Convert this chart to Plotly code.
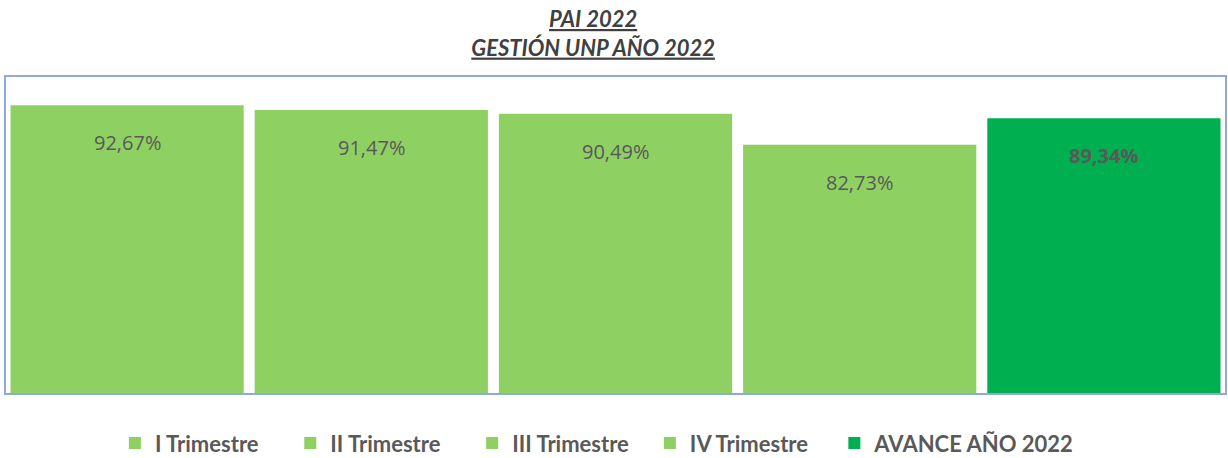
import plotly.graph_objects as go

categories = ["I Trimestre", "II Trimestre", "III Trimestre", "IV Trimestre", "AVANCE AÑO 2022"]
values = [92.67, 91.47, 90.49, 82.73, 89.34]
labels = ["92,67%", "91,47%", "90,49%", "82,73%", "89,34%"]
colors = ["#8FD063", "#8FD063", "#8FD063", "#8FD063", "#00B050"]
bold_label = [False, False, False, False, True]

legend_pad = [5, 5, 3, 4, 0]  # trailing non-breaking spaces for legend spacing

fig = go.Figure()
for cat, val, col, pad in zip(categories, values, colors, legend_pad):
    fig.add_trace(go.Bar(
        x=[cat], y=[val], name=cat + "\u00a0" * pad,
        marker=dict(color=col, line=dict(width=0)),
        hoverinfo="skip",
    ))

for cat, val, lab, b in zip(categories, values, labels, bold_label):
    fig.add_annotation(
        x=cat, y=val, xref="x", yref="y", yanchor="top", yshift=-22,
        text=f"<b>{lab}</b>" if b else lab, showarrow=False,
        font=dict(family="Open Sans", size=20, color="#595959"),
    )

fig.add_shape(type="rect", xref="paper", yref="paper", x0=0, y0=0, x1=1, y1=1,
              line=dict(color="#8EA9DB", width=2), fillcolor="rgba(0,0,0,0)", layer="above")

fig.update_layout(
    width=1228, height=458,
    margin=dict(l=5, r=2, t=76, b=64, autoexpand=False),
    paper_bgcolor="white", plot_bgcolor="white",
    barmode="overlay", bargap=0.045,
    title=dict(
        text="<i><b><u>PAI 2022</u></b></i><br><i><b><u>GESTIÓN UNP AÑO 2022</u></b></i>",
        x=0.483, xanchor="center", yref="container", y=1 - 27 / 458, yanchor="middle",
        font=dict(family="Lato", size=22, color="#404040"),
    ),
    xaxis=dict(visible=False, categoryorder="array", categoryarray=categories),
    yaxis=dict(visible=False, range=[20, 100]),
    showlegend=True,
    legend=dict(
        orientation="h", x=0.09, xanchor="left", y=-0.155, yanchor="middle",
        font=dict(family="Lato", size=22, color="#595959", weight="bold"),
        itemwidth=30, traceorder="normal", itemclick=False,
    ),
    font=dict(family="Lato"),
)

fig.write_html("out.html", config={"displayModeBar": False},
               post_script="document.body.style.margin='0';")
